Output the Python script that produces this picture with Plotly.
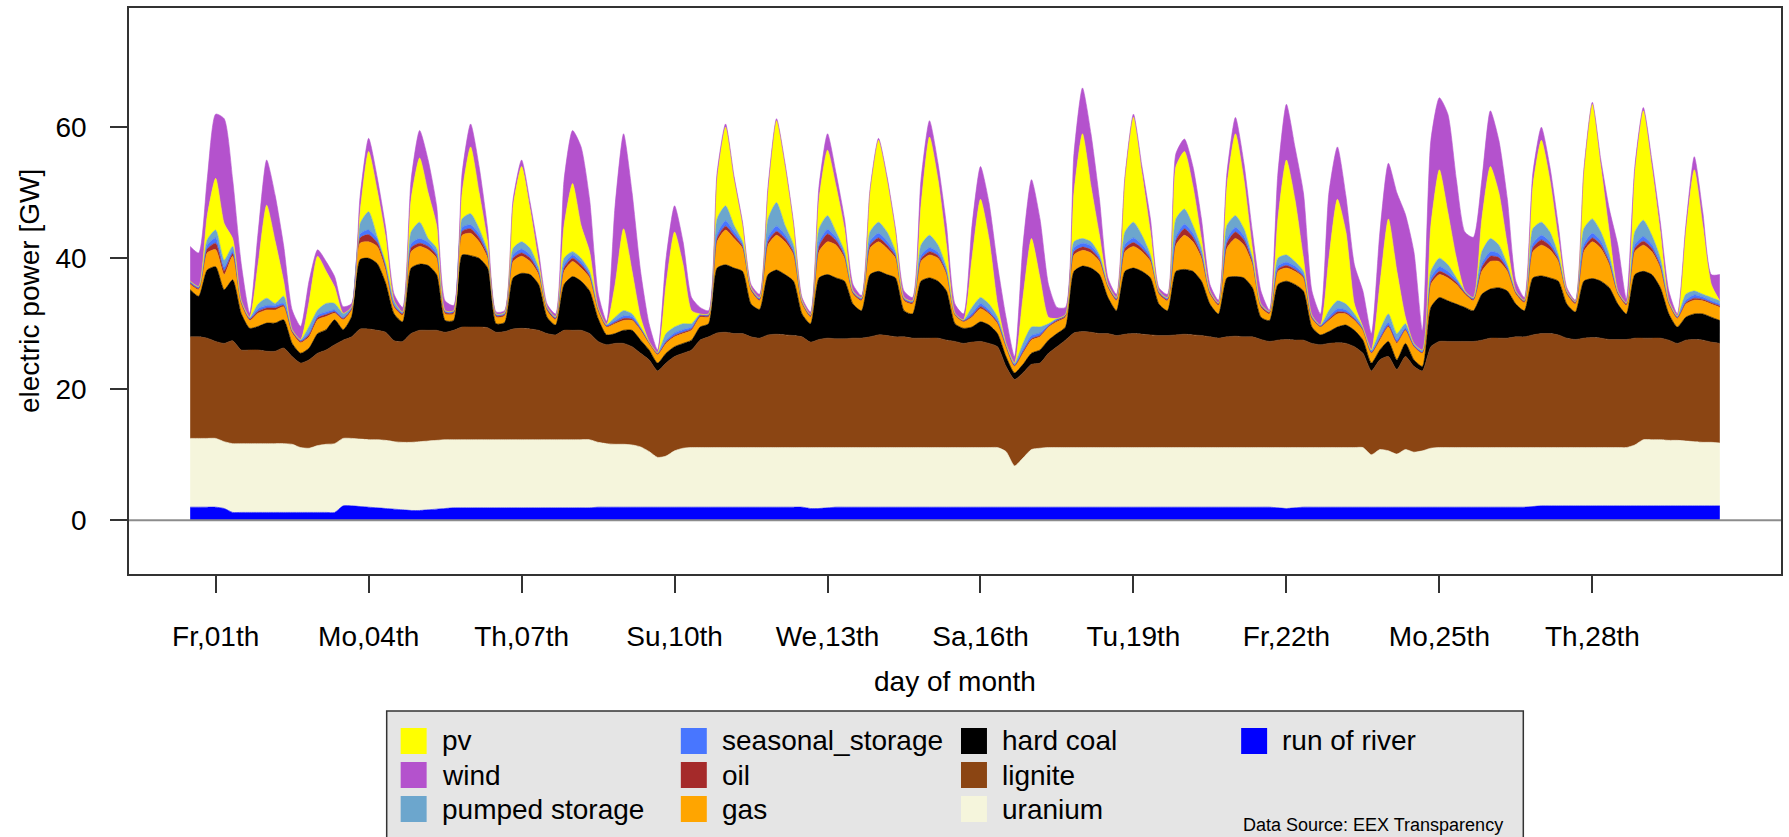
import pandas as pd
import plotly.graph_objects as go

# 4-hourly samples: 1 June 2012 00:00 ... 1 July 2012 00:00 (181 points), GW
times = pd.date_range("2012-06-01 00:00", periods=181, freq="4h")

run_of_river = [
    2.0, 2.0, 2.0, 2.0, 1.8, 1.2,  1.2, 1.2, 1.2, 1.2, 1.2, 1.2,  1.2, 1.2, 1.2, 1.2, 1.2, 1.2,
    2.2, 2.2, 2.1, 2.0, 1.9, 1.8,  1.7, 1.6, 1.5, 1.5, 1.6, 1.7,  1.8, 1.9, 1.9, 1.9, 1.9, 1.9,
    1.9, 1.9, 1.9, 1.9, 1.9, 1.9,  1.9, 1.9, 1.9, 1.9, 1.9, 1.9,  2.0, 2.0, 2.0, 2.0, 2.0, 2.0,
    2.0, 2.0, 2.0, 2.0, 2.0, 2.0,  2.0, 2.0, 2.0, 2.0, 2.0, 2.0,  2.0, 2.0, 2.0, 2.0, 2.0, 2.0,
    2.0, 1.8, 1.8, 1.9, 2.0, 2.0,  2.0, 2.0, 2.0, 2.0, 2.0, 2.0,  2.0, 2.0, 2.0, 2.0, 2.0, 2.0,
    2.0, 2.0, 2.0, 2.0, 2.0, 2.0,  2.0, 2.0, 2.0, 2.0, 2.0, 2.0,  2.0, 2.0, 2.0, 2.0, 2.0, 2.0,
    2.0, 2.0, 2.0, 2.0, 2.0, 2.0,  2.0, 2.0, 2.0, 2.0, 2.0, 2.0,  2.0, 2.0, 2.0, 2.0, 2.0, 2.0,
    2.0, 2.0, 1.9, 1.8, 1.9, 2.0,  2.0, 2.0, 2.0, 2.0, 2.0, 2.0,  2.0, 2.0, 2.0, 2.0, 2.0, 2.0,
    2.0, 2.0, 2.0, 2.0, 2.0, 2.0,  2.0, 2.0, 2.0, 2.0, 2.0, 2.0,  2.0, 2.0, 2.1, 2.2, 2.2, 2.2,
    2.2, 2.2, 2.2, 2.2, 2.2, 2.2,  2.2, 2.2, 2.2, 2.2, 2.2, 2.2,  2.2, 2.2, 2.2, 2.2, 2.2, 2.2,
    2.2,
]
uranium = [
    10.5, 10.5, 10.5, 10.5, 10.2, 10.5,  10.5, 10.5, 10.5, 10.5, 10.5, 10.5,  10.4, 9.9, 9.8, 10.2, 10.4, 10.5,
    10.3, 10.3, 10.3, 10.3, 10.4, 10.4,  10.3, 10.3, 10.4, 10.5, 10.5, 10.5,  10.5, 10.4, 10.4, 10.4, 10.4, 10.4,
    10.4, 10.4, 10.4, 10.4, 10.4, 10.4,  10.4, 10.4, 10.4, 10.4, 10.4, 10.4,  9.9, 9.7, 9.6, 9.6, 9.5, 9.2,
    8.5, 7.6, 7.8, 8.6, 9.0, 9.1,  9.1, 9.1, 9.1, 9.1, 9.1, 9.1,  9.1, 9.1, 9.1, 9.1, 9.1, 9.1,
    9.1, 9.3, 9.3, 9.2, 9.1, 9.1,  9.1, 9.1, 9.1, 9.1, 9.1, 9.1,  9.1, 9.1, 9.1, 9.1, 9.1, 9.1,
    9.1, 9.1, 9.1, 9.1, 9.1, 9.1,  8.5, 6.3, 7.5, 8.8, 9.0, 9.1,  9.1, 9.1, 9.1, 9.1, 9.1, 9.1,
    9.1, 9.1, 9.1, 9.1, 9.1, 9.1,  9.1, 9.1, 9.1, 9.1, 9.1, 9.1,  9.1, 9.1, 9.1, 9.1, 9.1, 9.1,
    9.1, 9.1, 9.2, 9.3, 9.2, 9.1,  9.1, 9.1, 9.1, 9.1, 9.1, 9.1,  9.1, 8.0, 8.8, 8.6, 8.1, 8.8,
    8.4, 8.6, 9.0, 9.1, 9.1, 9.1,  9.1, 9.1, 9.1, 9.1, 9.1, 9.1,  9.1, 9.1, 9.0, 8.9, 8.9, 8.9,
    8.9, 8.9, 8.9, 8.9, 8.9, 8.9,  8.9, 8.9, 9.3, 10.1, 10.1, 10.1,  10.0, 10.0, 9.9, 9.8, 9.7, 9.7,
    9.6,
]
lignite = [
    15.5, 15.5, 15.3, 14.8, 15.0, 15.7,  14.3, 14.3, 14.3, 14.1, 14.1, 14.6,  13.4, 12.9, 13.5, 14.1, 14.4, 15.1,
    15.0, 15.5, 16.8, 16.9, 16.7, 16.5,  15.4, 15.4, 16.6, 17.0, 16.9, 16.8,  16.4, 16.7, 17.2, 17.2, 17.2, 17.1,
    16.4, 16.5, 16.9, 17.0, 16.9, 16.7,  16.2, 16.0, 16.7, 16.7, 16.7, 16.2,  15.4, 15.1, 15.4, 15.4, 15.0, 14.3,
    14.0, 13.2, 14.2, 14.4, 14.5, 14.9,  16.4, 16.9, 17.5, 17.6, 17.4, 17.4,  16.9, 16.7, 17.2, 17.3, 17.2, 17.1,
    16.9, 16.1, 16.5, 16.7, 16.6, 16.6,  16.7, 16.7, 16.9, 17.2, 17.1, 16.9,  16.9, 16.7, 16.7, 16.7, 16.7, 16.4,
    16.2, 15.9, 16.1, 16.2, 15.9, 15.4,  13.0, 13.2, 13.0, 13.0, 13.0, 14.4,  15.4, 16.4, 17.5, 17.7, 17.6, 17.4,
    17.4, 17.1, 17.3, 17.4, 17.3, 17.2,  17.1, 17.1, 17.2, 17.3, 17.2, 17.1,  16.9, 16.7, 16.9, 17.0, 16.9, 16.9,
    16.5, 16.2, 16.4, 16.5, 16.4, 16.4,  15.9, 15.7, 15.9, 16.0, 15.9, 15.4,  14.4, 12.8, 13.7, 14.4, 12.9, 14.2,
    13.1, 12.2, 15.5, 16.2, 16.2, 16.2,  16.2, 16.2, 16.4, 16.7, 16.7, 16.7,  16.9, 16.9, 17.2, 17.4, 17.4, 17.2,
    16.7, 16.5, 16.7, 16.8, 16.7, 16.5,  16.5, 16.5, 16.3, 15.5, 15.5, 15.5,  15.3, 14.8, 15.4, 15.6, 15.6, 15.3,
    15.2,
]
hard_coal = [
    7.2, 6.2, 10.4, 11.4, 8.2, 9.3,  5.6, 3.3, 3.6, 4.3, 4.3, 4.3,  2.0, 1.5, 1.8, 3.0, 3.1, 3.8,
    1.6, 3.1, 10.6, 10.8, 10.2, 7.5,  4.1, 3.0, 10.0, 10.1, 9.9, 8.5,  1.8, 1.5, 11.0, 10.9, 10.5, 9.1,
    1.3, 1.4, 7.8, 8.4, 8.3, 7.0,  2.5, 1.5, 7.0, 8.2, 7.5, 6.5,  3.5, 1.5, 1.5, 2.0, 2.5, 2.0,
    1.5, 1.2, 1.5, 1.5, 1.5, 1.5,  2.0, 2.0, 9.9, 10.3, 10.0, 9.5,  5.0, 4.4, 9.2, 9.8, 9.2, 8.3,
    3.5, 2.8, 9.4, 9.7, 9.3, 8.8,  5.2, 4.2, 9.5, 9.7, 9.3, 9.0,  4.0, 3.7, 8.7, 9.2, 8.7, 7.5,
    2.7, 2.3, 2.3, 3.0, 2.8, 2.0,  1.5, 1.0, 1.3, 1.7, 2.0, 2.0,  2.0, 2.0, 9.4, 10.0, 9.8, 9.0,
    5.5, 3.8, 9.6, 10.0, 9.6, 8.7,  4.8, 3.8, 9.7, 9.9, 9.7, 8.3,  5.0, 3.7, 9.0, 9.1, 9.0, 7.5,
    3.4, 3.2, 8.5, 8.9, 8.5, 7.5,  2.5, 1.5, 1.8, 2.4, 2.8, 2.5,  2.0, 1.2, 1.5, 2.3, 1.5, 2.0,
    1.0, 0.7, 6.0, 6.7, 6.2, 5.7,  5.2, 4.7, 7.0, 7.5, 7.7, 7.2,  5.0, 4.0, 8.7, 8.8, 8.5, 8.2,
    5.2, 4.2, 8.7, 9.0, 8.7, 7.9,  5.4, 3.9, 9.7, 10.2, 9.7, 7.7,  4.0, 2.5, 3.5, 3.9, 4.0, 3.8,
    3.5,
]
gas = [
    0.8, 1.0, 2.6, 2.6, 2.3, 3.6,  1.5, 1.2, 2.0, 2.0, 2.0, 2.0,  1.6, 1.6, 1.7, 2.1, 2.0, 1.0,
    1.5, 1.0, 2.5, 2.5, 2.6, 2.0,  1.0, 1.0, 2.5, 2.7, 2.4, 2.5,  1.0, 1.0, 3.0, 3.4, 2.5, 1.5,
    1.0, 1.0, 2.5, 2.6, 2.0, 1.5,  1.0, 0.8, 2.0, 2.3, 2.0, 2.0,  1.2, 1.2, 1.5, 1.5, 1.5, 1.5,
    1.0, 1.3, 1.5, 1.5, 1.5, 1.5,  1.5, 1.0, 4.0, 5.3, 4.5, 3.5,  2.0, 1.3, 4.5, 5.3, 5.0, 4.0,
    1.5, 1.0, 4.0, 5.0, 5.0, 3.5,  1.5, 1.5, 4.0, 4.5, 4.0, 3.0,  1.5, 1.5, 3.0, 3.5, 3.5, 2.5,
    1.3, 1.0, 1.5, 2.0, 1.7, 1.5,  1.5, 1.0, 1.7, 2.0, 2.0, 2.0,  1.8, 1.5, 2.5, 2.4, 2.3, 2.0,
    1.5, 1.5, 3.0, 3.3, 3.0, 2.5,  1.5, 1.5, 4.0, 5.2, 4.5, 3.5,  1.5, 1.3, 4.5, 5.8, 5.0, 3.5,
    1.5, 1.0, 2.0, 2.0, 2.0, 2.0,  1.3, 1.2, 1.7, 2.0, 1.7, 1.5,  1.5, 1.5, 1.5, 2.2, 2.5, 2.0,
    2.0, 2.0, 3.5, 3.5, 3.5, 3.0,  2.0, 1.5, 3.5, 4.2, 4.0, 3.0,  1.5, 1.2, 4.0, 4.7, 4.3, 3.0,
    1.5, 1.2, 4.5, 5.6, 5.0, 3.5,  1.5, 1.3, 3.5, 4.0, 3.5, 3.0,  1.5, 1.3, 2.0, 2.1, 2.0, 2.0,
    2.0,
]
oil = [
    0.2, 0.2, 0.6, 1.0, 0.6, 0.4,  0.2, 0.2, 0.3, 0.3, 0.3, 0.2,  0.2, 0.2, 0.3, 0.3, 0.3, 0.2,
    0.2, 0.2, 0.8, 1.1, 0.6, 0.4,  0.2, 0.2, 0.6, 0.5, 0.5, 0.4,  0.2, 0.2, 0.6, 0.7, 0.6, 0.4,
    0.2, 0.2, 0.5, 0.5, 0.5, 0.3,  0.2, 0.2, 0.5, 0.5, 0.5, 0.3,  0.2, 0.1, 0.2, 0.3, 0.2, 0.2,
    0.1, 0.1, 0.2, 0.2, 0.2, 0.2,  0.2, 0.2, 0.5, 0.6, 0.5, 0.3,  0.2, 0.2, 0.5, 0.6, 0.5, 0.3,
    0.2, 0.2, 0.8, 1.2, 0.7, 0.3,  0.2, 0.2, 0.5, 0.6, 0.5, 0.3,  0.2, 0.2, 0.4, 0.5, 0.4, 0.3,
    0.1, 0.1, 0.2, 0.3, 0.2, 0.2,  0.1, 0.1, 0.2, 0.2, 0.2, 0.1,  0.2, 0.2, 0.5, 0.5, 0.5, 0.3,
    0.2, 0.2, 0.5, 0.6, 0.5, 0.3,  0.2, 0.2, 0.7, 1.0, 0.7, 0.4,  0.2, 0.2, 0.8, 1.0, 0.8, 0.4,
    0.2, 0.2, 0.3, 0.4, 0.3, 0.2,  0.1, 0.1, 0.2, 0.3, 0.2, 0.2,  0.1, 0.1, 0.2, 0.2, 0.2, 0.1,
    0.1, 0.1, 0.4, 0.5, 0.4, 0.3,  0.2, 0.2, 0.6, 0.8, 0.6, 0.3,  0.2, 0.2, 0.6, 0.8, 0.6, 0.3,
    0.2, 0.2, 0.5, 0.6, 0.5, 0.3,  0.2, 0.2, 0.5, 0.6, 0.5, 0.3,  0.2, 0.1, 0.2, 0.3, 0.2, 0.2,
    0.2,
]
seasonal_storage = [
    0.2, 0.2, 0.6, 0.8, 0.6, 0.4,  0.2, 0.2, 0.4, 0.4, 0.4, 0.3,  0.2, 0.2, 0.4, 0.4, 0.4, 0.3,
    0.2, 0.2, 0.6, 0.7, 0.6, 0.4,  0.2, 0.2, 0.6, 0.7, 0.6, 0.4,  0.2, 0.2, 0.6, 0.6, 0.6, 0.4,
    0.2, 0.2, 0.5, 0.6, 0.5, 0.3,  0.2, 0.2, 0.5, 0.5, 0.5, 0.3,  0.2, 0.2, 0.3, 0.4, 0.4, 0.2,
    0.2, 0.2, 0.3, 0.4, 0.4, 0.3,  0.2, 0.2, 0.6, 0.8, 0.6, 0.4,  0.2, 0.2, 0.7, 0.8, 0.6, 0.4,
    0.2, 0.2, 0.6, 0.7, 0.5, 0.3,  0.2, 0.2, 0.6, 0.7, 0.6, 0.4,  0.2, 0.2, 0.5, 0.6, 0.5, 0.3,
    0.2, 0.2, 0.4, 0.5, 0.4, 0.3,  0.2, 0.2, 0.4, 0.5, 0.4, 0.2,  0.2, 0.2, 0.6, 0.6, 0.6, 0.4,
    0.2, 0.2, 0.6, 0.7, 0.6, 0.4,  0.2, 0.2, 0.6, 0.7, 0.6, 0.4,  0.2, 0.2, 0.6, 0.7, 0.6, 0.4,
    0.2, 0.2, 0.5, 0.5, 0.5, 0.3,  0.2, 0.2, 0.4, 0.5, 0.4, 0.3,  0.2, 0.2, 0.4, 0.5, 0.4, 0.3,
    0.2, 0.2, 0.6, 0.7, 0.6, 0.4,  0.2, 0.2, 0.6, 0.7, 0.6, 0.4,  0.2, 0.2, 0.6, 0.7, 0.6, 0.4,
    0.2, 0.2, 0.6, 0.7, 0.6, 0.4,  0.2, 0.2, 0.6, 0.7, 0.6, 0.4,  0.2, 0.2, 0.4, 0.5, 0.4, 0.3,
    0.3,
]
pumped_storage = [
    0.1, 0.1, 0.8, 1.2, 1.0, 0.7,  0.1, 0.1, 0.7, 1.1, 0.3, 1.1,  0.1, 0.1, 0.9, 0.8, 1.3, 1.0,
    0.6, 0.1, 1.6, 2.8, 0.3, 0.2,  0.6, 0.1, 1.8, 2.5, 0.6, 0.7,  0.1, 0.1, 1.3, 1.7, 0.8, 0.2,
    0.1, 0.1, 1.0, 1.1, 1.0, 0.4,  0.1, 0.1, 1.0, 0.5, 0.5, 0.4,  0.1, 0.1, 0.5, 0.8, 0.4, 0.1,
    0.0, 0.0, 1.0, 0.9, 0.9, 0.5,  0.1, 0.1, 2.4, 2.3, 0.9, 0.3,  0.1, 0.1, 2.8, 3.6, 1.4, 0.8,
    0.1, 0.0, 2.1, 2.1, 0.8, 0.4,  0.1, 0.1, 1.4, 1.7, 1.4, 0.3,  0.1, 0.1, 1.6, 1.9, 1.1, 0.4,
    0.0, 0.0, 0.9, 0.9, 0.9, 0.5,  0.2, 0.2, 0.9, 1.3, 0.9, 0.2,  0.1, 0.0, 0.9, 0.7, 0.6, 0.3,
    0.1, 0.1, 1.9, 2.4, 1.4, 0.3,  0.1, 0.1, 2.7, 2.3, 1.2, 0.7,  0.1, 0.0, 2.1, 1.8, 1.1, 0.2,
    0.1, 0.0, 1.2, 1.1, 0.7, 0.5,  0.2, 0.0, 0.9, 1.2, 0.9, 0.5,  0.2, 0.2, 0.9, 1.3, 0.9, 0.6,
    0.2, 0.2, 1.0, 1.3, 1.0, 0.3,  0.1, 0.1, 1.8, 2.0, 1.3, 0.3,  0.1, 0.0, 2.3, 2.0, 1.5, 0.3,
    0.1, 0.0, 2.4, 2.2, 1.4, 0.8,  0.1, 0.0, 1.9, 2.5, 1.4, 0.8,  0.1, 0.1, 0.9, 0.6, 0.4, 0.5,
    0.5,
]
pv = [
    0, 0, 3.6, 7.9, 5.6, 1.2,  0, 0, 6.2, 14.2, 9.5, 2.3,  0, 0, 3.8, 8.2, 4.9, 2.5,
    0, 0, 1.8, 9.2, 7.1, 4.0,  0, 0, 5.0, 9.8, 7.0, 3.5,  0, 0, 4.0, 10.2, 5.5, 1.5,
    0, 0, 6.5, 11.5, 6.0, 1.0,  0, 0, 5.0, 10.4, 5.0, 3.0,  0, 0, 5.0, 12.5, 6.5, 1.5,
    0, 0, 7.5, 14.5, 9.0, 2.0,  0, 0, 6.0, 12.0, 7.0, 2.5,  0, 0, 4.0, 12.5, 9.0, 3.0,
    0, 0, 4.5, 10.0, 7.0, 3.5,  0, 0, 6.0, 12.5, 8.0, 3.0,  0, 0, 6.0, 15.0, 10.0, 3.5,
    0, 0, 7.5, 15.0, 10.0, 2.0,  0, 0, 7.0, 13.5, 7.5, 1.0,  0, 0, 7.5, 16.0, 8.5, 3.0,
    0, 0, 8.0, 16.0, 9.5, 3.5,  0, 0, 8.0, 8.8, 6.0, 1.5,  0, 0, 6.0, 12.5, 7.5, 1.5,
    0, 0, 6.0, 14.5, 9.5, 2.0,  0, 0, 8.0, 15.5, 11.0, 1.5,  0, 0, 7.0, 14.5, 9.5, 1.0,
    0, 0, 7.0, 13.5, 8.0, 3.0,  0, 0, 5.0, 11.0, 8.0, 3.0,  0, 0, 6.5, 12.5, 8.0, 2.5,
    0, 0, 8.5, 17.5, 10.0, 3.5,  0, 0, 9.0, 16.7, 10.5, 4.0,  0, 0, 9.5, 18.5, 10.5, 2.0,
    0,
]
wind = [
    5.3, 5.1, 5.6, 9.8, 16.0, 9.0,  5.6, 0.6, 4.8, 6.9, 7.0, 5.4,  3.0, 2.0, 3.2, 1.0, 1.5, 1.6,
    1.0, 0.5, 2.4, 2.0, 2.0, 1.5,  1.0, 0.7, 3.0, 4.2, 5.0, 3.0,  1.5, 0.8, 3.0, 3.5, 4.0, 2.0,
    0.3, 0.3, 1.0, 1.0, 1.0, 1.5,  0.5, 0.4, 7.0, 8.1, 12.0, 8.0,  2.2, 0.5, 12.0, 14.5, 12.0, 7.0,
    2.7, 0.4, 4.0, 4.0, 3.5, 2.0,  1.0, 0.5, 1.0, 0.5, 0.5, 0.5,  0.5, 0.5, 1.0, 0.3, 0.5, 0.5,
    0.5, 0.4, 2.0, 2.5, 2.0, 1.5,  1.0, 0.3, 0.5, 0.3, 0.5, 0.5,  1.0, 0.5, 4.0, 2.5, 2.5, 3.0,
    1.4, 0.9, 5.0, 5.0, 5.5, 6.0,  4.0, 1.0, 8.0, 9.0, 9.0, 5.0,  1.7, 1.1, 6.0, 7.0, 8.0, 5.5,
    1.0, 0.5, 0.5, 0.5, 1.0, 2.0,  0.5, 0.5, 2.0, 1.9, 3.0, 3.0,  1.0, 0.4, 2.0, 2.5, 2.5, 2.5,
    2.0, 0.2, 7.0, 8.5, 8.0, 10.0,  3.7, 1.7, 10.0, 8.0, 5.5, 6.0,  5.5, 2.5, 8.0, 8.5, 12.0, 15.7,
    14.0, 3.0, 13.0, 11.0, 15.0, 12.0,  9.0, 9.2, 6.0, 8.5, 8.0, 7.0,  1.5, 0.4, 2.0, 2.0, 2.0, 2.0,
    0.5, 0.2, 0.5, 0.3, 1.0, 3.5,  7.0, 0.6, 1.0, 0.5, 1.0, 1.5,  1.5, 0.3, 1.0, 2.0, 2.0, 1.5,
    4.0,
]

tick_labels = ["Fr,01th", "Mo,04th", "Th,07th", "Su,10th", "We,13th",
               "Sa,16th", "Tu,19th", "Fr,22th", "Mo,25th", "Th,28th"]
tick_times = pd.date_range("2012-06-01 12:00", periods=len(tick_labels), freq="3D")

# stacking order, bottom to top
SERIES = [
    ("run of river", run_of_river, "#0000FF"),
    ("uranium", uranium, "#F5F5DC"),
    ("lignite", lignite, "#8B4513"),
    ("hard coal", hard_coal, "#000000"),
    ("gas", gas, "#FFA500"),
    ("oil", oil, "#A52A2A"),
    ("seasonal_storage", seasonal_storage, "#4876FF"),
    ("pumped storage", pumped_storage, "#6CA6CD"),
    ("pv", pv, "#FFFF00"),
    ("wind", wind, "#B452CD"),
]
COLOR = {name: col for name, _, col in SERIES}

# legend layout (column-major like the R legend)
LEGEND_COLS = [
    ["pv", "wind", "pumped storage"],
    ["seasonal_storage", "oil", "gas"],
    ["hard coal", "lignite", "uranium"],
    ["run of river"],
]

FONT = "Liberation Sans, Arial, Helvetica, sans-serif"
W, H = 1789, 837
L, R, T, B = 129, 6, 8, 263
PW, PH = W - L - R, H - T - B


def px2x(px):
    return (px - L) / PW


def py2y(py):
    return (H - B - py) / PH


fig = go.Figure()
for name, vals, col in SERIES:
    fig.add_trace(go.Scatter(
        x=times, y=vals, name=name, mode="lines",
        stackgroup="one", fillcolor=col,
        line=dict(width=0.6, color=col, shape="spline", smoothing=0.6),
        showlegend=False,
        hovertemplate=name + "<br>%{x}<br>%{y:.1f} GW<extra></extra>",
    ))

noon1 = pd.Timestamp("2012-06-01 12:00")
x_range = [noon1 - pd.Timedelta(days=1.7), noon1 + pd.Timedelta(days=30.7)]

shapes = [
    dict(type="line", xref="paper", x0=0, x1=1, yref="y", y0=0, y1=0,
         line=dict(color="#8c8c8c", width=2), layer="above"),
    dict(type="rect", xref="paper", yref="paper",
         x0=px2x(387), x1=px2x(1525), y0=py2y(860), y1=py2y(711),
         fillcolor="#E5E5E5", line=dict(color="#333333", width=1.5)),
]
annotations = [
    dict(text="day of month", xref="paper", yref="paper", x=0.5, y=py2y(681),
         xanchor="center", yanchor="middle", showarrow=False,
         font=dict(size=28, color="#000", family=FONT)),
    dict(text="electric power [GW]", xref="paper", yref="paper", x=px2x(29), y=0.5,
         xanchor="center", yanchor="middle", textangle=-90, showarrow=False,
         font=dict(size=28, color="#000", family=FONT)),
    dict(text="Data Source: EEX Transparency", xref="paper", yref="paper",
         x=px2x(1242), y=py2y(825), xanchor="left", yanchor="middle",
         showarrow=False, font=dict(size=18, color="#000", family=FONT)),
]

for ci, col_items in enumerate(LEGEND_COLS):
    left = 401 + 280.5 * ci
    for ri, name in enumerate(col_items):
        cy = 741 + 34 * ri
        shapes.append(dict(
            type="rect", xref="paper", yref="paper",
            x0=px2x(left), x1=px2x(left + 26), y0=py2y(cy + 13), y1=py2y(cy - 13),
            fillcolor=COLOR[name], line=dict(width=0),
        ))
        annotations.append(dict(
            text=name, xref="paper", yref="paper", x=px2x(left + 39), y=py2y(cy),
            xanchor="left", yanchor="middle", showarrow=False,
            font=dict(size=28, color="#000", family=FONT),
        ))

fig.update_layout(
    width=W, height=H,
    margin=dict(l=L, r=R, t=T, b=B),
    paper_bgcolor="white", plot_bgcolor="white",
    font=dict(family=FONT, size=28, color="#000"),
    showlegend=False,
    shapes=shapes,
    annotations=annotations,
    xaxis=dict(
        range=x_range, tickvals=tick_times, ticktext=tick_labels,
        ticks="outside", ticklen=17, tickwidth=1.5, tickcolor="#333",
        ticklabelstandoff=20,
        showgrid=False, zeroline=False,
        showline=True, mirror=True, linecolor="#333", linewidth=1.5,
        tickfont=dict(size=28, family=FONT),
    ),
    yaxis=dict(
        range=[-8.2, 78.2], tickvals=[0, 20, 40, 60],
        ticks="outside", ticklen=17, tickwidth=1.5, tickcolor="#333",
        ticklabelstandoff=18,
        showgrid=False, zeroline=False,
        showline=True, mirror=True, linecolor="#333", linewidth=1.5,
        tickfont=dict(size=28, family=FONT),
    ),
)

fig.write_html("out.html", config={"displayModeBar": False},
               post_script="document.body.style.margin='0';")
